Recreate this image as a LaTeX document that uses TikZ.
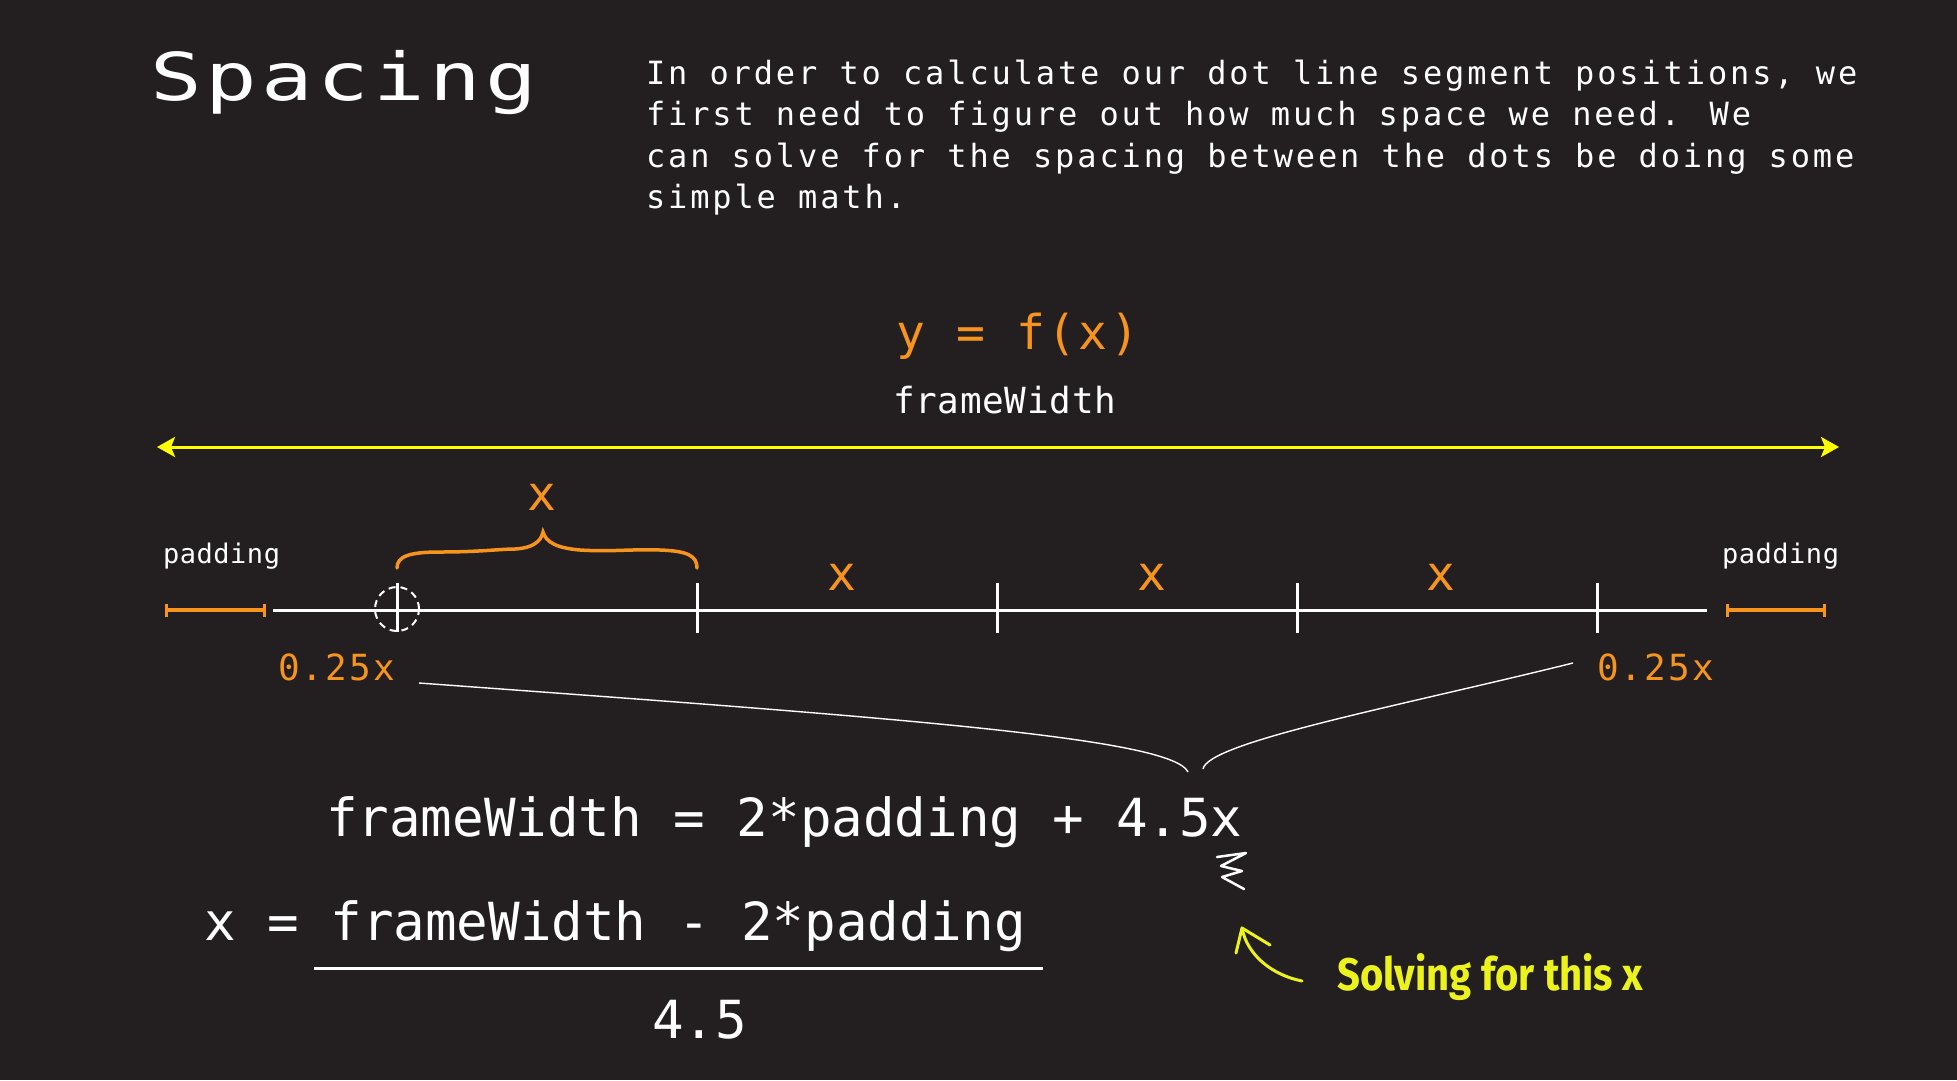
\documentclass[tikz,border=0pt]{standalone}
\usepackage{fontspec}
\usetikzlibrary{arrows.meta}
\definecolor{bg}{HTML}{231F20}
\definecolor{orng}{HTML}{F7941D}
\definecolor{ylw}{HTML}{FFFF00}
\definecolor{hlyel}{HTML}{EBF21E}
\newfontfamily\monofnt{DejaVu Sans Mono}
\newfontfamily\titlefnt[LetterSpace=5]{DejaVu Sans Mono}
\newfontfamily\parafnt[LetterSpace=9]{DejaVu Sans Mono}
\newfontfamily\smallfnt[LetterSpace=2]{DejaVu Sans Mono}
\newfontfamily\fwfnt[LetterSpace=2]{DejaVu Sans Mono}
\newfontfamily\orfnt[LetterSpace=5]{DejaVu Sans Mono}
\newfontfamily\quarterfnt[LetterSpace=6]{DejaVu Sans Mono}
\newfontfamily\handfnt{Fira Sans}
\begin{document}
\begin{tikzpicture}[x=1pt,y=-1pt,
  txt/.style={inner sep=0pt, outer sep=0pt, text=white, anchor=base west},
  otxt/.style={inner sep=0pt, outer sep=0pt, text=orng, anchor=base west},
  xlab/.style={inner sep=0pt, outer sep=0pt, text=orng, anchor=base, font=\orfnt\fontsize{48}{48}\selectfont},
  tickline/.style={white, line width=3pt},
  padseg/.style={orng, line width=3.5pt, {Bar[width=13pt,line width=3pt]}-{Bar[width=13pt,line width=3pt]}},
  thinlink/.style={white, line width=1.4pt},
  orbrace/.style={orng, line width=3.5pt, line cap=round},
  eq/.style={txt, font=\monofnt\fontsize{52.5}{53}\selectfont}]
\fill[bg] (0,0) rectangle (1957,1080);
\useasboundingbox (0,0) rectangle (1957,1080);

% title and text
\node[txt] (title) at (150,100) {\scalebox{1.3}[1]{\titlefnt\fontsize{66}{66}\selectfont Spacing}};
\node[txt] (p1) at (646,84) {\parafnt\fontsize{32}{32}\selectfont In order to calculate our dot line segment positions, we};
\node[txt] (p2) at (646,125) {\parafnt\fontsize{32}{32}\selectfont first need to figure out how much space we need. We};
\node[txt] (p3) at (646,167) {\parafnt\fontsize{32}{32}\selectfont can solve for the spacing between the dots be doing some};
\node[txt] (p4) at (646,208) {\parafnt\fontsize{32}{32}\selectfont simple math.};

% y = f(x) and frameWidth
\node[otxt] (yfx) at (896,349) {\orfnt\fontsize{48}{48}\selectfont y = f(x)};
\node[txt] (fwlab) at (893,413) {\fwfnt\fontsize{36}{36}\selectfont frameWidth};

% yellow double arrow
\coordinate (fwL) at (157,447);
\coordinate (fwR) at (1839,447);
\draw[ylw, line width=3pt, {Stealth[length=18pt,width=20pt,inset=4pt]}-{Stealth[length=18pt,width=20pt,inset=4pt]}] (fwL) -- (fwR);

% number line
\coordinate (nlL) at (273,610);
\coordinate (nlR) at (1707,610);
\draw[tickline] (nlL) -- (nlR);
\coordinate (t0) at (397,610);
\foreach \i/\xx in {1/697,2/997,3/1297,4/1597} {
  \coordinate (t\i) at (\xx,610);
  \draw[tickline] ([yshift=-23pt]t\i) -- ([yshift=27pt]t\i);
}
\draw[tickline] ([yshift=-22pt]t0) -- ([yshift=27pt]t0);
\draw[white, line width=2pt, dash pattern=on 7pt off 5pt] (397,609) circle[radius=22pt];

% padding segments
\node[txt] (padL) at (163,563) {\smallfnt\fontsize{27}{27}\selectfont padding};
\node[txt] (padR) at (1722,563) {\smallfnt\fontsize{27}{27}\selectfont padding};
\coordinate (pl1) at (165,610); \coordinate (pl2) at (266,610);
\coordinate (pr1) at (1726,610); \coordinate (pr2) at (1826,610);
\draw[padseg] (pl1) -- (pl2);
\draw[padseg] (pr1) -- (pr2);

% orange brace and x labels
\coordinate (bL) at (397,568);
\coordinate (bT) at (543,532);
\coordinate (bR) at (697,568);
\draw[orbrace] (bL) .. controls (397,556) and (410,552) .. (440,552)
  .. controls (480,552) and (500,549) .. (515,549)
  .. controls (532,548) and (541,542) .. (bT)
  .. controls (546,542) and (556,548) .. (580,550)
  .. controls (610,552) and (630,549) .. (660,550)
  .. controls (688,551) and (697,556) .. (bR);
\node[xlab] (xb) at (542,510) {x};
\node[xlab] (x1) at (842,590) {x};
\node[xlab] (x2) at (1152,590) {x};
\node[xlab] (x3) at (1441,590) {x};

% 0.25x labels
\node[otxt] (qL) at (278,680) {\quarterfnt\fontsize{36}{36}\selectfont 0.25x};
\node[otxt] (qR) at (1597,680) {\quarterfnt\fontsize{36}{36}\selectfont 0.25x};

% thin white brace
\coordinate (lkL) at (419,683);
\coordinate (lkLm) at (1188,772);
\coordinate (lkR) at (1573,663);
\coordinate (lkRm) at (1203,769);
\draw[thinlink] (lkL) .. controls (900,718) and (1172,738) .. (lkLm);
\draw[thinlink] (lkR) .. controls (1400,706) and (1208,742) .. (lkRm);

% equations
\node[eq] (eq1) at (326,836) {frameWidth = 2*padding + 4.5x};
\node[eq] (eq2) at (204,940) {x = frameWidth - 2*padding};
\coordinate (fr1) at (314,968);
\coordinate (fr2) at (1043,968);
\draw[white, line width=3pt] (fr1) -- (fr2);
\node[eq] (den) at (652,1038) {4.5};

% squiggle
\draw[white, line width=2.5pt, line cap=round, line join=round]
  (1217,857) -- (1246,853) -- (1221,866) -- (1242,871) -- (1222,877) -- (1244,889);

% hand-drawn arrow and note
\coordinate (hTip) at (1242,928);
\coordinate (hTail) at (1302,981);
\draw[hlyel, line width=3pt, line cap=round, line join=round]
  (hTail) .. controls (1272,975) and (1247,955) .. (hTip);
\draw[hlyel, line width=3pt, line cap=round, line join=round]
  (1236,953) -- (hTip) -- (1270,945);
\node[inner sep=0pt, anchor=base west, text=hlyel] (note) at (1337,990)
  {\resizebox{306pt}{37pt}{\handfnt\bfseries Solving for this x}};
\end{tikzpicture}
\end{document}
